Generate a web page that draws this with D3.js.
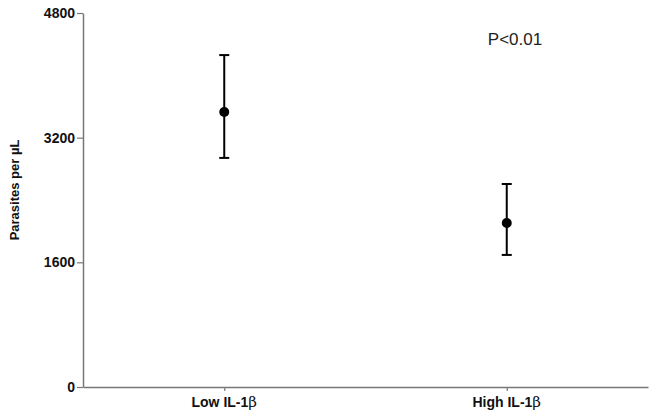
<!DOCTYPE html>
<html lang="en">
<head>
  <meta charset="UTF-8">
  <title>Parasites per uL by IL-1 beta</title>
  <style>
    body { margin: 0; padding: 0; background: #fff; }
    svg { display: block; font-family: Arial, "Liberation Sans", sans-serif; }
  </style>
</head>
<body>
<svg width="653" height="419"></svg>
<script src="https://d3js.org/d3.v7.min.js"></script>
<script>
// values
const groups = ["Low IL-1", "High IL-1"];
const means = [3530, 2105];
const upper = [4260, 2605];
const lower = [2940, 1695];
const yTicks = [0, 1600, 3200, 4800];

const svg = d3.select("svg");
const plotLeft = 83, plotRight = 648, plotTop = 13, plotBottom = 387;

const x = d3.scalePoint().domain(groups).range([plotLeft, plotRight]).padding(0.5);
const y = d3.scaleLinear().domain([0, 4800]).range([plotBottom, plotTop]);

// y axis
const yAxis = svg.append("g")
  .attr("transform", `translate(${plotLeft},0)`)
  .call(d3.axisLeft(y).tickValues(yTicks).tickFormat(d3.format("d"))
    .tickSize(6).tickPadding(2).tickSizeOuter(0));
yAxis.select(".domain").attr("stroke", "#777").attr("stroke-width", 1.5);
yAxis.selectAll(".tick line").attr("stroke", "#777").attr("stroke-width", 1.2);
yAxis.selectAll(".tick text")
  .attr("fill", "#111")
  .style("font-size", "14px")
  .style("font-weight", "bold");

// x axis
const xAxis = svg.append("g")
  .attr("transform", `translate(0,${plotBottom})`)
  .call(d3.axisBottom(x).tickSize(4).tickSizeOuter(0).tickFormat(""));
xAxis.select(".domain").attr("stroke", "#777").attr("stroke-width", 1.5);
xAxis.selectAll(".tick line").attr("stroke", "#777").attr("stroke-width", 1.2);

// category labels with a plain beta
groups.forEach(g => {
  const t = svg.append("text")
    .attr("x", x(g))
    .attr("y", 407)
    .attr("text-anchor", "middle")
    .attr("fill", "#111")
    .style("font-size", "14px");
  t.append("tspan").style("font-weight", "bold").text(g);
  t.append("tspan").style("font-family", "'DejaVu Serif', serif").style("font-size", "15px").text("\u03b2");
});

// y title
svg.append("text")
  .attr("transform", "translate(19,190) rotate(-90)")
  .attr("text-anchor", "middle")
  .attr("fill", "#111")
  .style("font-size", "13px")
  .style("font-weight", "bold")
  .text("Parasites per \u00b5L");

// error bars
const capW = 5;
const bars = svg.append("g").selectAll("g")
  .data(groups)
  .join("g");

bars.append("line")
  .attr("x1", d => x(d)).attr("x2", d => x(d))
  .attr("y1", (d, i) => y(upper[i])).attr("y2", (d, i) => y(lower[i]))
  .attr("stroke", "#000").attr("stroke-width", 2);

bars.append("line")
  .attr("x1", d => x(d) - capW).attr("x2", d => x(d) + capW)
  .attr("y1", (d, i) => y(upper[i])).attr("y2", (d, i) => y(upper[i]))
  .attr("stroke", "#000").attr("stroke-width", 2);

bars.append("line")
  .attr("x1", d => x(d) - capW).attr("x2", d => x(d) + capW)
  .attr("y1", (d, i) => y(lower[i])).attr("y2", (d, i) => y(lower[i]))
  .attr("stroke", "#000").attr("stroke-width", 2);

bars.append("circle")
  .attr("cx", d => x(d))
  .attr("cy", (d, i) => y(means[i]))
  .attr("r", 5)
  .attr("fill", "#000");

// p-value note
svg.append("text")
  .attr("x", 515)
  .attr("y", 45)
  .attr("text-anchor", "middle")
  .attr("fill", "#222")
  .style("font-size", "17px")
  .text("P<0.01");
</script>
</body>
</html>
